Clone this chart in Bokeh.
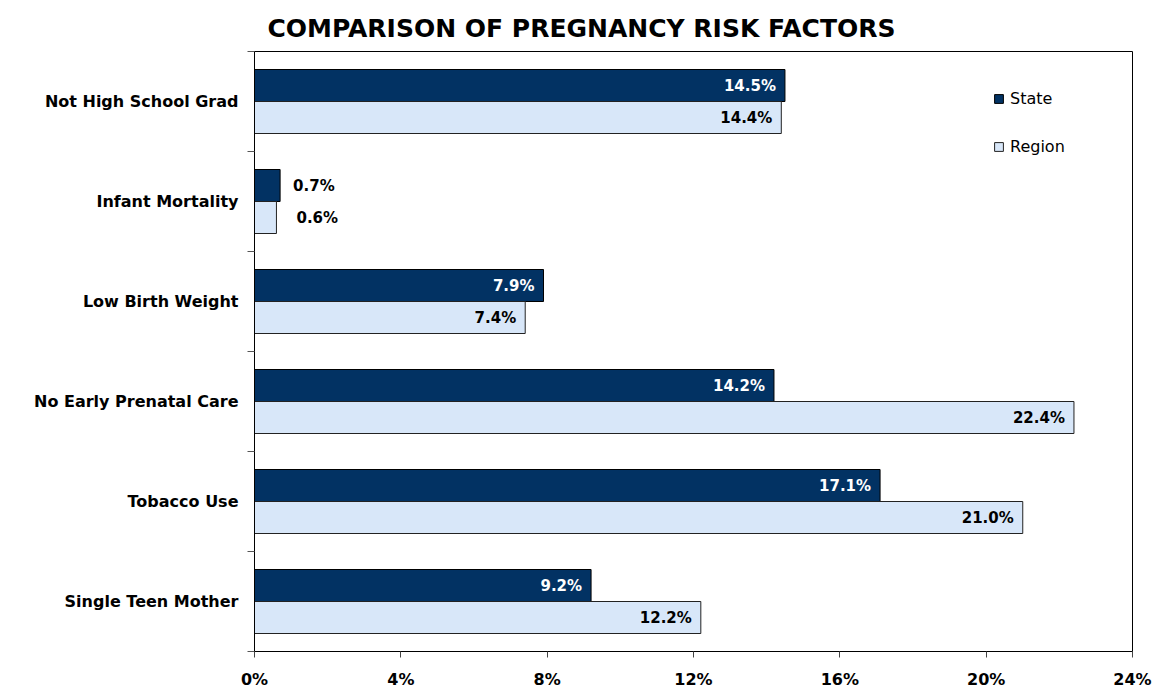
from bokeh.plotting import figure
from bokeh.models import ColumnDataSource, FixedTicker, PrintfTickFormatter, Range1d, Legend, LegendItem
from bokeh.transform import dodge
from bokeh.embed import file_html
from bokeh.resources import INLINE
from bokeh.core.properties import value

# ---- data ----
categories = ["Not High School Grad", "Infant Mortality", "Low Birth Weight",
              "No Early Prenatal Care", "Tobacco Use", "Single Teen Mother"]
state = [14.5, 0.7, 7.9, 14.2, 17.1, 9.2]
region = [14.4, 0.6, 7.4, 22.4, 21.0, 12.2]
series_names = ["State", "Region"]
x_ticks = [0, 4, 8, 12, 16, 20, 24]

FONT = "DejaVu Sans"
STATE_COLOR = "#023263"
REGION_COLOR = "#d8e7f9"

n = len(categories)
ypos = [n - 0.5 - i for i in range(n)]

src = ColumnDataSource(dict(y=ypos, cat=categories, state=state, region=region))

p = figure(width=1157, height=691, x_range=Range1d(0, 24), y_range=Range1d(0, n),
           output_backend="svg", toolbar_location=None,
           min_border_left=254, min_border_right=25, min_border_top=51, min_border_bottom=37,
           title="COMPARISON OF PREGNANCY RISK FACTORS")
p.background_fill_color = "white"
p.border_fill_color = "white"
p.outline_line_color = "black"
p.outline_line_width = 1
p.xgrid.visible = False
p.ygrid.visible = False

p.title.align = "left"
p.title.offset = 13
p.title.text_font = FONT
p.title.text_font_size = "25px"
p.title.text_font_style = "bold"
p.title.text_color = "black"
p.title.standoff = 18

r_state = p.hbar(y=dodge("y", 0.16), left=0, right="state", height=0.32, source=src,
                 fill_color=STATE_COLOR, line_color="black", line_width=1)
r_region = p.hbar(y=dodge("y", -0.16), left=0, right="region", height=0.32, source=src,
                  fill_color=REGION_COLOR, line_color="#222222", line_width=1)

# ---- value labels ----
def label_sources(vals, off):
    inside = dict(x=[], y=[], t=[])
    outside = dict(x=[], y=[], t=[])
    for v, y in zip(vals, ypos):
        d = inside if v >= 3 else outside
        d["x"].append(v)
        d["y"].append(y + off)
        d["t"].append(f"{v:.1f}%")
    return ColumnDataSource(inside), ColumnDataSource(outside)

s_in, s_out = label_sources(state, 0.16)
g_in, g_out = label_sources(region, -0.16)

common = dict(text_font=value(FONT), text_font_size="15px", text_font_style="bold",
              text_baseline="middle")
p.text(x="x", y="y", text="t", source=s_in, text_align="right", x_offset=-9,
       text_color="white", **common)
p.text(x="x", y="y", text="t", source=s_out, text_align="left", x_offset=13,
       text_color="black", **common)
p.text(x="x", y="y", text="t", source=g_in, text_align="right", x_offset=-9,
       text_color="black", **common)
p.text(x="x", y="y", text="t", source=g_out, text_align="left", x_offset=20,
       text_color="black", **common)

# ---- axes ----
xa = p.xaxis[0]
xa.ticker = FixedTicker(ticks=x_ticks)
xa.formatter = PrintfTickFormatter(format="%d%%")
xa.major_tick_out = 6
xa.major_tick_in = 0
xa.minor_tick_line_color = None
xa.major_tick_line_color = "#444444"
xa.axis_line_color = "black"
xa.major_label_text_font = FONT
xa.major_label_text_font_size = "16px"
xa.major_label_text_font_style = "bold"
xa.major_label_text_color = "black"
xa.major_label_standoff = 12

ya = p.yaxis[0]
ya.ticker = FixedTicker(ticks=ypos, minor_ticks=list(range(n + 1)))
ya.major_label_overrides = {y: c for y, c in zip(ypos, categories)}
ya.major_tick_line_color = None
ya.major_tick_out = 0
ya.major_tick_in = 0
ya.minor_tick_out = 7
ya.minor_tick_in = 0
ya.minor_tick_line_color = "#555555"
ya.axis_line_color = "black"
ya.major_label_text_font = FONT
ya.major_label_text_font_size = "16px"
ya.major_label_text_font_style = "bold"
ya.major_label_text_color = "black"
ya.major_label_standoff = 9

# ---- legend ----
legend = Legend(items=[LegendItem(label=series_names[0], renderers=[r_state]),
                       LegendItem(label=series_names[1], renderers=[r_region])],
                location=(739, 495), orientation="vertical",
                glyph_width=11, glyph_height=11, label_standoff=6, spacing=29,
                padding=0, margin=0, border_line_color=None, background_fill_alpha=0,
                label_text_font=FONT, label_text_font_size="16px", label_text_color="black")
p.add_layout(legend, "center")

open("out.html", "w").write(file_html(p, INLINE))
